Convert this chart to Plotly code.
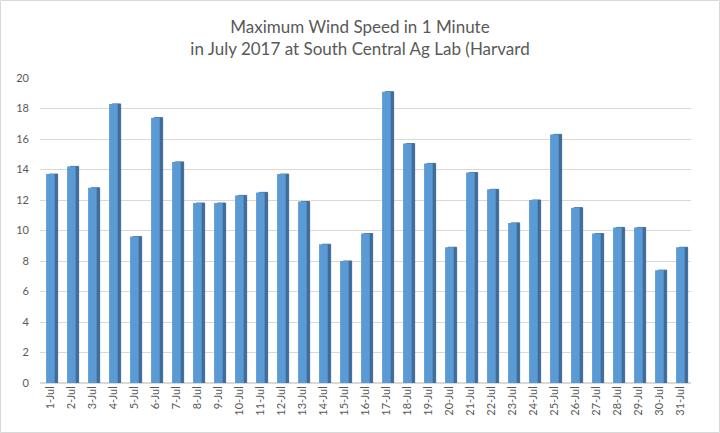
import plotly.graph_objects as go

days = [f"{d}-Jul" for d in range(1, 32)]
wind_speed = [13.7, 14.2, 12.8, 18.3, 9.6, 17.4, 14.5, 11.8, 11.8, 12.3,
              12.5, 13.7, 11.9, 9.1, 8.0, 9.8, 19.1, 15.7, 14.4, 8.9,
              13.8, 12.7, 10.5, 12.0, 16.3, 11.5, 9.8, 10.2, 10.2, 7.4, 8.9]
y_ticks = list(range(0, 21, 2))
title_lines = ["Maximum Wind Speed in 1 Minute",
               "in July 2017 at South Central Ag Lab (Harvard"]

FONT = "Lato"
TXT = "#595959"

fig = go.Figure()
# darker side face (pseudo 3D)
fig.add_trace(go.Bar(x=days, y=wind_speed, offset=-0.06, width=0.4,
                     marker=dict(color="#3f6c99", line=dict(color="#3f6c99", width=1)),
                     hoverinfo="skip", showlegend=False))
# front face
fig.add_trace(go.Bar(x=days, y=wind_speed, offset=-0.21, width=0.41,
                     marker=dict(color="#5b9bd5", line=dict(width=0)),
                     showlegend=False))

L, R, T, B = 40, 29, 78, 50
W, H = 720, 433
pw = W - L - R
ph = H - T - B

fig.update_layout(
    width=W, height=H,
    margin=dict(l=L, r=R, t=T, b=B),
    barmode="overlay",
    plot_bgcolor="white", paper_bgcolor="white",
    title=dict(text="<br>".join(title_lines), x=0.5, xanchor="center",
               y=1 - 33 / H, yanchor="middle",
               font=dict(family=FONT, size=17, color=TXT)),
    font=dict(family=FONT, color=TXT, size=11),
    xaxis=dict(type="category", tickangle=-90, showgrid=False, showline=False,
               ticks="", range=[-0.5, 30.5], tickfont=dict(size=11, color=TXT)),
    yaxis=dict(range=[0, 20], tickvals=y_ticks, showgrid=True, gridcolor="#d9d9d9",
               gridwidth=1, zeroline=True, zerolinecolor="#d9d9d9", showline=False,
               ticks="", ticklabelstandoff=10, tickfont=dict(size=11, color=TXT)),
    shapes=[dict(type="rect", xref="paper", yref="paper",
                 x0=(-L + 0.5) / pw, x1=(pw + R - 0.5) / pw,
                 y0=(-B + 0.5) / ph, y1=(ph + T - 0.5) / ph,
                 line=dict(color="#d9d9d9", width=1), layer="below")],
)

fig.write_html("out.html")
